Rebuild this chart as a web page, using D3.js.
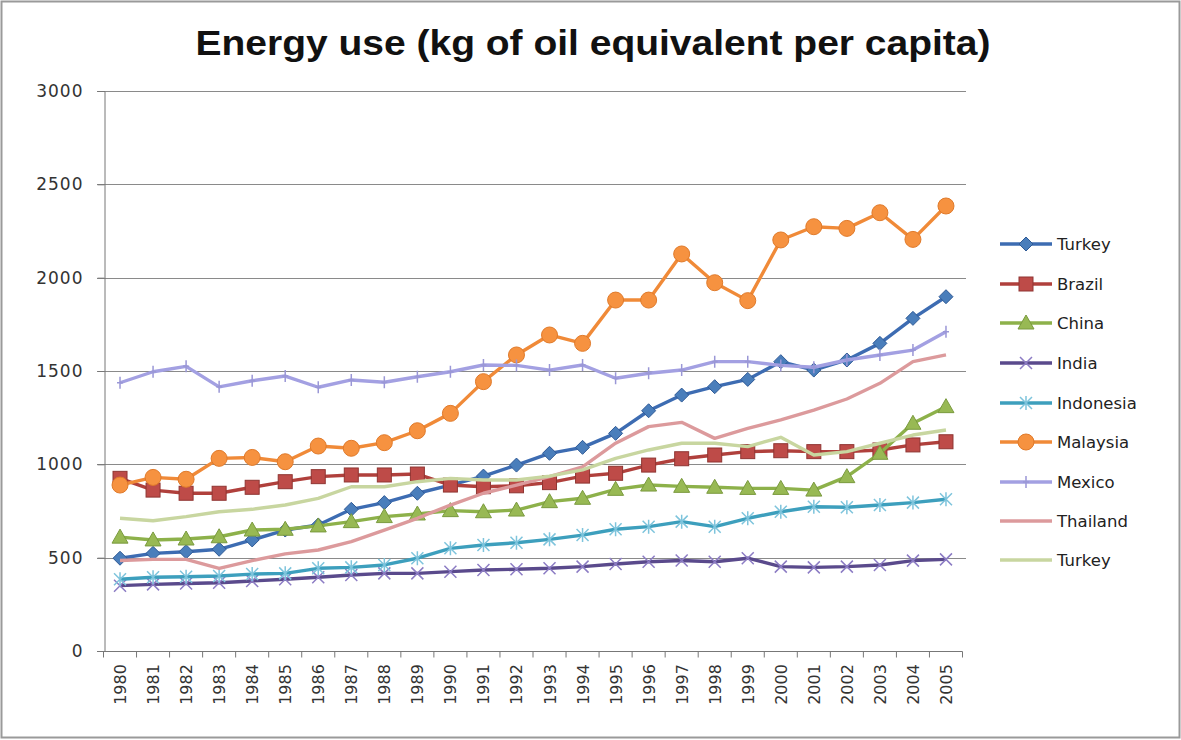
<!DOCTYPE html>
<html><head><meta charset="utf-8">
<script src="https://cdn.jsdelivr.net/npm/d3@7"></script>
<style>body{margin:0;background:#fff}svg{display:block}</style>
</head><body>
<svg id="c" width="1181" height="740"></svg>
<script>
const years = ["1980","1981","1982","1983","1984","1985","1986","1987","1988","1989","1990","1991","1992","1993","1994","1995","1996","1997","1998","1999","2000","2001","2002","2003","2004","2005"];
const yTicks = [0,500,1000,1500,2000,2500,3000];
const seriesNames = ["Turkey","Brazil","China","India","Indonesia","Malaysia","Mexico","Thailand","Turkey"];
const turkey   = [497,523,532,545,595,648,675,759,795,845,889,937,996,1059,1091,1166,1287,1371,1416,1455,1550,1505,1559,1648,1782,1898];
const brazil   = [925,862,845,845,877,907,934,943,943,948,889,880,885,902,937,952,996,1030,1050,1068,1073,1068,1068,1077,1104,1121];
const china    = [610,595,600,612,648,652,670,693,720,734,752,746,755,800,818,866,889,882,877,871,871,862,934,1059,1220,1309];
const india    = [350,357,362,366,375,384,395,407,416,416,425,434,438,443,452,466,478,485,478,497,452,448,452,461,484,491];
const indonesia= [384,395,398,402,412,416,443,448,461,497,550,568,580,598,621,652,666,693,666,711,746,773,770,782,795,813];
const malaysia = [889,930,920,1032,1037,1014,1098,1086,1116,1180,1273,1443,1586,1693,1648,1880,1880,2127,1973,1877,2202,2273,2264,2348,2205,2384];
const mexico   = [1437,1496,1525,1415,1448,1473,1413,1452,1440,1469,1496,1532,1530,1505,1532,1461,1488,1505,1550,1550,1530,1520,1559,1586,1612,1710];
const thailand = [485,491,491,443,484,520,541,586,648,711,782,845,889,934,987,1113,1202,1225,1139,1193,1238,1291,1350,1434,1550,1586];
const turkey2  = [711,698,720,746,759,782,818,880,880,907,925,916,916,937,970,1032,1077,1113,1113,1095,1145,1050,1068,1113,1157,1184];
const seriesValues = [turkey,brazil,china,india,indonesia,malaysia,mexico,thailand,turkey2];

const styles = [
  {line:"#3d6cb2", fill:"#4a7ebb", stroke:"#2f5a96", marker:"diamond"},
  {line:"#b0403c", fill:"#be4b48", stroke:"#8f3532", marker:"square"},
  {line:"#8db14a", fill:"#98b954", stroke:"#7a9a3e", marker:"triangle"},
  {line:"#5a4a8c", fill:"none", stroke:"#8c7cc4", marker:"x"},
  {line:"#3d9fbd", fill:"none", stroke:"#7ec4dc", marker:"star"},
  {line:"#f08a38", fill:"#f69240", stroke:"#e07a2a", marker:"circle"},
  {line:"#a3a0e2", fill:"none", stroke:"#9a97d6", marker:"plus"},
  {line:"#dc9a9c", fill:"none", stroke:"none", marker:"none"},
  {line:"#c8d6a0", fill:"none", stroke:"none", marker:"none"}
];

const svg = d3.select("#c");
svg.append("rect").attr("x",1.5).attr("y",1.5).attr("width",1178).attr("height",736)
  .attr("fill","#fff").attr("stroke","#9a9a9a").attr("stroke-width",2);

const x = d3.scalePoint().domain(years).range([103.5,962.5]).padding(0.5);
const y = d3.scaleLinear().domain([0,3000]).range([651,91]);

svg.append("text").attr("x",593).attr("y",55).attr("text-anchor","middle")
  .attr("font-family","Liberation Sans, Arial, sans-serif").attr("font-weight","bold")
  .attr("font-size",35).attr("fill","#111")
  .attr("textLength",795).attr("lengthAdjust","spacingAndGlyphs")
  .text("Energy use (kg of oil equivalent per capita)");

svg.append("g").selectAll("line").data(yTicks.filter(d=>d>0)).join("line")
  .attr("x1",97).attr("x2",966).attr("y1",d=>Math.round(y(d))+0.5).attr("y2",d=>Math.round(y(d))+0.5)
  .attr("stroke","#8a8a8a").attr("stroke-width",1);

const yAxis = d3.axisLeft(y).tickValues(yTicks).tickFormat(d3.format("d")).tickSize(7).tickPadding(14);
const gy = svg.append("g").attr("transform","translate(104.5,0)").call(yAxis);
gy.select(".domain").attr("stroke","#777");
gy.selectAll(".tick line").attr("stroke","#777");
gy.selectAll("text").attr("font-family","DejaVu Sans, sans-serif").attr("font-size",17)
  .attr("letter-spacing","1px").attr("fill","#333");

const gx = svg.append("g").attr("transform","translate(0,651.5)");
gx.append("line").attr("x1",97).attr("x2",962.5).attr("stroke","#777");
gx.selectAll("line.tk").data(d3.range(years.length+1)).join("line").attr("class","tk")
  .attr("x1",d=>103.5+d*x.step()).attr("x2",d=>103.5+d*x.step()).attr("y1",0).attr("y2",6)
  .attr("stroke","#777");
gx.selectAll("text").data(years).join("text")
  .attr("transform",d=>`translate(${x(d)+6},${33}) rotate(-90)`)
  .attr("text-anchor","middle")
  .attr("font-family","DejaVu Sans, sans-serif").attr("font-size",16).attr("fill","#333")
  .text(d=>d);

function drawMarker(g, type, st){
  const s = 6;
  if(type==="diamond"){
    g.append("path").attr("d",`M0,${-s-1}L${s+1},0L0,${s+1}L${-s-1},0Z`).attr("fill",st.fill).attr("stroke",st.stroke).attr("stroke-width",1);
  } else if(type==="square"){
    g.append("rect").attr("x",-s-1).attr("y",-s-1).attr("width",2*s+2).attr("height",2*s+2).attr("fill",st.fill).attr("stroke",st.stroke).attr("stroke-width",1);
  } else if(type==="triangle"){
    g.append("path").attr("d",`M0,${-s-2}L${s+2},${s}L${-s-2},${s}Z`).attr("fill",st.fill).attr("stroke",st.stroke).attr("stroke-width",1);
  } else if(type==="circle"){
    g.append("circle").attr("r",s+2).attr("fill",st.fill).attr("stroke",st.stroke).attr("stroke-width",1);
  } else if(type==="x"){
    g.append("path").attr("d",`M${-s},${-s}L${s},${s}M${-s},${s}L${s},${-s}`).attr("stroke",st.stroke).attr("stroke-width",1.5).attr("fill","none");
  } else if(type==="star"){
    g.append("path").attr("d",`M${-s},${-s}L${s},${s}M${-s},${s}L${s},${-s}M0,${-s-1}L0,${s+1}`).attr("stroke",st.stroke).attr("stroke-width",1.5).attr("fill","none");
  } else if(type==="plus"){
    g.append("path").attr("d",`M0,${-s}L0,${s}M${-3},0L3,0`).attr("stroke",st.stroke).attr("stroke-width",1.5).attr("fill","none");
  }
}

const line = d3.line().x((d,i)=>x(years[i])).y(d=>y(d));
const plot = svg.append("g");
seriesValues.forEach((vals,k)=>{
  const st = styles[k];
  const g = plot.append("g");
  g.append("path").datum(vals).attr("d",line).attr("fill","none")
    .attr("stroke",st.line).attr("stroke-width",3.4).attr("stroke-linejoin","round");
  if(st.marker!=="none"){
    vals.forEach((v,i)=>{
      const m = g.append("g").attr("transform",`translate(${x(years[i])},${y(v)})`);
      drawMarker(m, st.marker, st);
    });
  }
});

const legY = [244,284,323,363,403,442,482,521,560];
const leg = svg.append("g");
seriesNames.forEach((name,k)=>{
  const st = styles[k];
  const gg = leg.append("g").attr("transform",`translate(0,${legY[k]})`);
  gg.append("line").attr("x1",1000).attr("x2",1052).attr("stroke",st.line).attr("stroke-width",3.4);
  if(st.marker!=="none"){
    const m = gg.append("g").attr("transform","translate(1026,0)");
    drawMarker(m, st.marker, st);
  }
  gg.append("text").attr("x",1057).attr("y",6).attr("font-family","DejaVu Sans, sans-serif")
    .attr("font-size",16.5).attr("fill","#222").text(name);
});
</script>
</body></html>
